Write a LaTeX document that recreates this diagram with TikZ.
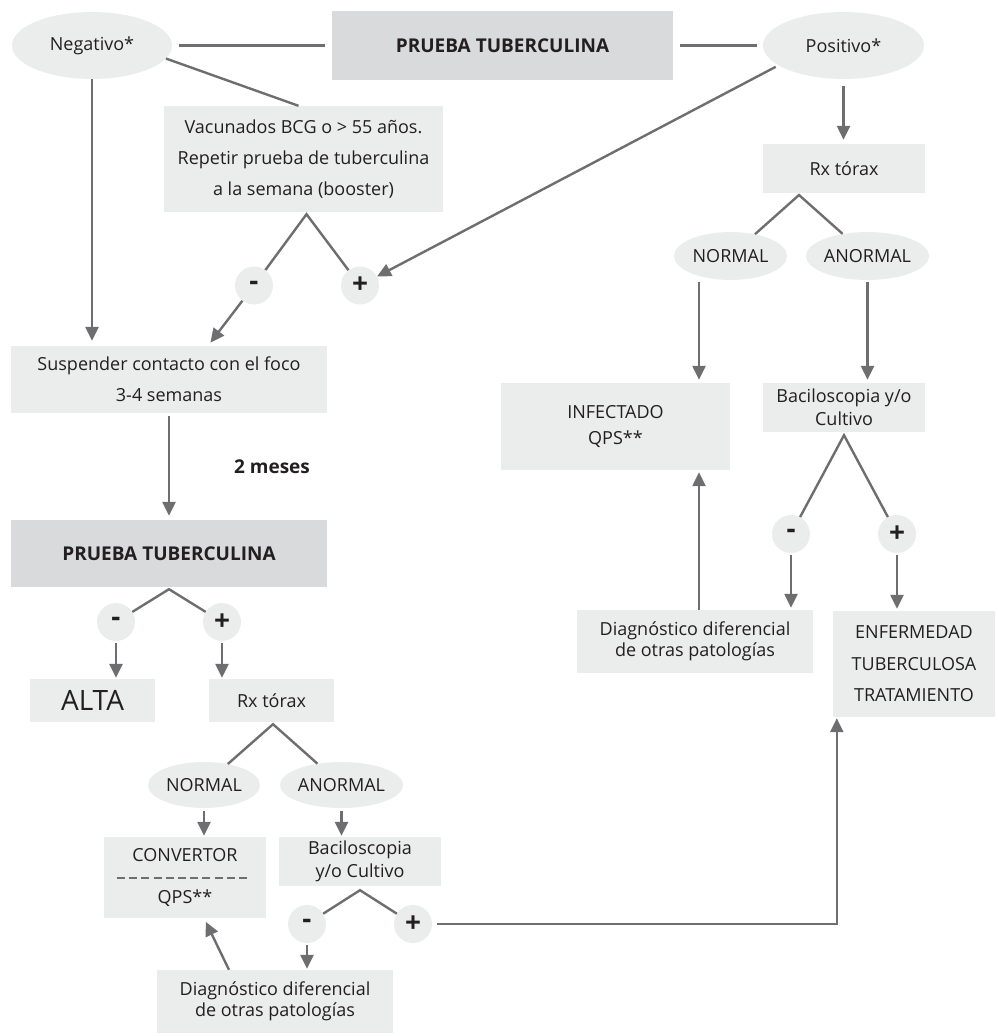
\documentclass[tikz,border=0pt]{standalone}
\usepackage{fontspec}
\setmainfont{Open Sans}
\usetikzlibrary{arrows.meta,calc,shapes.geometric}
\definecolor{boxfill}{HTML}{EBECEC}
\definecolor{headfill}{HTML}{D9DADB}
\definecolor{linegray}{HTML}{6E6E70}
\definecolor{txt}{HTML}{231F20}
\newcommand{\fsz}[2]{\fontsize{#1}{#2}\selectfont}

\begin{document}
\begin{tikzpicture}[x=1pt,y=-1pt,
  base/.style={inner sep=0pt, text=txt, align=center, font=\fsz{18}{31}},
  box/.style={base, rectangle, fill=boxfill},
  head/.style={base, rectangle, fill=headfill, font=\fsz{19}{31}\bfseries},
  oval/.style={base, ellipse, fill=boxfill},
  sign/.style={base, circle, fill=boxfill, minimum size=38pt, font=\fsz{28}{28}\bfseries},
  conn/.style={draw=linegray, line width=2.4pt},
  arr/.style={conn, -{Triangle[length=14pt,width=13pt]}},
]
\useasboundingbox (0,0) rectangle (998,1036);

% ---- top row ----
\node[oval, minimum width=160pt, minimum height=67pt] (neg) at (92,45.5) {Negativo*};
\node[head, minimum width=341pt, minimum height=69pt] (pt1) at (502.5,45.5) {PRUEBA TUBERCULINA};
\node[oval, minimum width=161pt, minimum height=67pt] (pos) at (843.5,45.5) {Positivo*};

% ---- left branch ----
\node[box, minimum width=279pt, minimum height=106pt] (vac) at (303.5,159)
  {Vacunados BCG o > 55 años.\\Repetir prueba de tuberculina\\a la semana (booster)};
\node[sign] (m1) at (254,285.5) {-};
\node[sign] (p1) at (360,285.5) {+};
\node[box, minimum width=316pt, minimum height=67pt] (susp) at (169,379.5)
  {Suspender contacto con el foco\\3-4 semanas};
\node[base, font=\fsz{19}{22}\bfseries] (meses) at (272,467) {2 meses};
\node[head, minimum width=316pt, minimum height=67pt] (pt2) at (169,553.5) {PRUEBA TUBERCULINA};
\node[sign] (m2) at (116,622) {-};
\node[sign] (p2) at (222,622) {+};
\node[box, minimum width=125pt, minimum height=43pt, font=\fsz{28}{30}] (alta) at (92.5,700.5) {ALTA};
\node[box, minimum width=125pt, minimum height=43pt] (rx2) at (271.5,700.5) {Rx tórax};
\node[oval, minimum width=112pt, minimum height=46pt] (nor2) at (204,785) {NORMAL};
\node[oval, minimum width=113pt, minimum height=46pt] (anor2) at (341.5,785) {ANORMAL};
\node[box, minimum width=162pt, minimum height=81pt, font=\fsz{18}{42}] (conv) at (185,877.5) {CONVERTOR\\QPS**};
\node[box, minimum width=162pt, minimum height=49pt, font=\fsz{18}{23}] (bac2) at (360,861.5) {Baciloscopia\\y/o Cultivo};
\node[sign] (m3) at (307,924) {-};
\node[sign] (p3) at (413,924) {+};
\node[box, minimum width=236pt, minimum height=63pt, font=\fsz{18}{21}] (dif2) at (275,1001.5)
  {Diagnóstico diferencial\\de otras patologías};

% ---- right branch ----
\node[box, minimum width=162pt, minimum height=49pt] (rx1) at (844,168.5) {Rx tórax};
\node[oval, minimum width=113pt, minimum height=48pt] (nor1) at (730.5,256) {NORMAL};
\node[oval, minimum width=113pt, minimum height=48pt] (anor1) at (867.5,256) {ANORMAL};
\node[box, minimum width=229pt, minimum height=87pt, font=\fsz{18}{26}] (inf) at (615.5,426.5) {INFECTADO\\QPS**};
\node[box, minimum width=162pt, minimum height=49pt, font=\fsz{18}{23}] (bac1) at (844,407.5) {Baciloscopia y/o\\Cultivo};
\node[sign] (m4) at (791,534) {-};
\node[sign] (p4) at (897,534) {+};
\node[box, minimum width=236pt, minimum height=63pt, font=\fsz{18}{21}] (dif1) at (695,641.5)
  {Diagnóstico diferencial\\de otras patologías};
\node[box, minimum width=162pt, minimum height=106pt, font=\fsz{18}{31.5}] (enf) at (914,664)
  {ENFERMEDAD\\TUBERCULOSA\\TRATAMIENTO};

% dashed separator inside the converter box
\draw[draw=linegray, line width=2pt, dash pattern=on 8pt off 4.2pt]
  ([xshift=-68pt]conv.center) -- ([xshift=66pt]conv.center);

% ---- helper points ----
\coordinate (va) at ([xshift=3pt,yshift=-2pt]vac.south);
\coordinate (pa) at ([yshift=-2pt]pt2.south);
\coordinate (ra2) at ([xshift=1.5pt,yshift=-2pt]rx2.south);
\coordinate (ba2) at ([yshift=-4pt]bac2.south);
\coordinate (enfin) at ([xshift=4pt]enf.south west);
\coordinate (ra1) at (799,195);
\coordinate (ntop) at ([xshift=-31.5pt]nor1.south);
\coordinate (ba1) at ([yshift=-3pt]bac1.south);
\coordinate (dtop) at ([xshift=4pt]dif1.north);

% ---- connectors: top ----
\draw[conn, shorten <=7pt, shorten >=7pt] (neg.east) -- (pt1.west);
\draw[conn, shorten <=7pt, shorten >=6pt] (pt1.east) -- (pos.west);
\draw[conn] (neg.-10) -- ([xshift=-5pt]vac.north);
\draw[arr, shorten <=3pt] (pos.197) -- (p1);

% ---- connectors: left ----
\draw[conn] (m1) -- (va) -- (p1);
\draw[arr, shorten >=5pt] (neg.south) -- (neg.south |- susp.north);
\draw[arr, shorten >=4pt] (m1) -- ([xshift=39pt]susp.north);
\draw[arr, shorten <=3pt, shorten >=4pt] (susp.south) -- (pt2.north);
\draw[conn] (m2) -- (pa) -- (p2);
\draw[arr, shorten <=2pt, shorten >=1pt] (m2) -- (m2 |- alta.north);
\draw[arr, shorten <=2pt, shorten >=1pt] (p2) -- (p2 |- rx2.north);
\draw[conn] (nor2) -- (ra2) -- (anor2);
\draw[arr, shorten <=3pt, shorten >=1pt] (nor2) -- (nor2 |- conv.north);
\draw[arr, shorten <=3pt, shorten >=1pt] (anor2) -- (anor2 |- bac2.north);
\draw[conn] (m3) -- (ba2) -- (p3);
\draw[arr, shorten <=2pt, shorten >=1pt] (m3) -- (m3 |- dif2.north);
\draw[arr, shorten <=5pt, shorten >=1pt] (p3) -| (enfin);
\draw[arr, shorten >=4pt] ([xshift=-46pt]dif2.north) -- ([xshift=19pt]conv.south);

% ---- connectors: right ----
\draw[arr, shorten <=7pt, shorten >=4pt] (pos.south) -- (pos.south |- rx1.north);
\draw[conn] (nor1) -- (ra1) -- (anor1);
\draw[arr, shorten <=2pt, shorten >=3pt] (ntop) -- (ntop |- inf.north);
\draw[arr, shorten <=2pt, shorten >=3pt] (anor1.south) -- (anor1.south |- bac1.north);
\draw[conn] (m4) -- (ba1) -- (p4);
\draw[arr, shorten <=2pt, shorten >=2pt] (m4) -- (m4 |- dif1.north);
\draw[arr, shorten <=2pt, shorten >=2pt] (p4) -- (p4 |- enf.north);
\draw[arr, shorten >=2pt] (dtop) -- (dtop |- inf.south);
\end{tikzpicture}
\end{document}
